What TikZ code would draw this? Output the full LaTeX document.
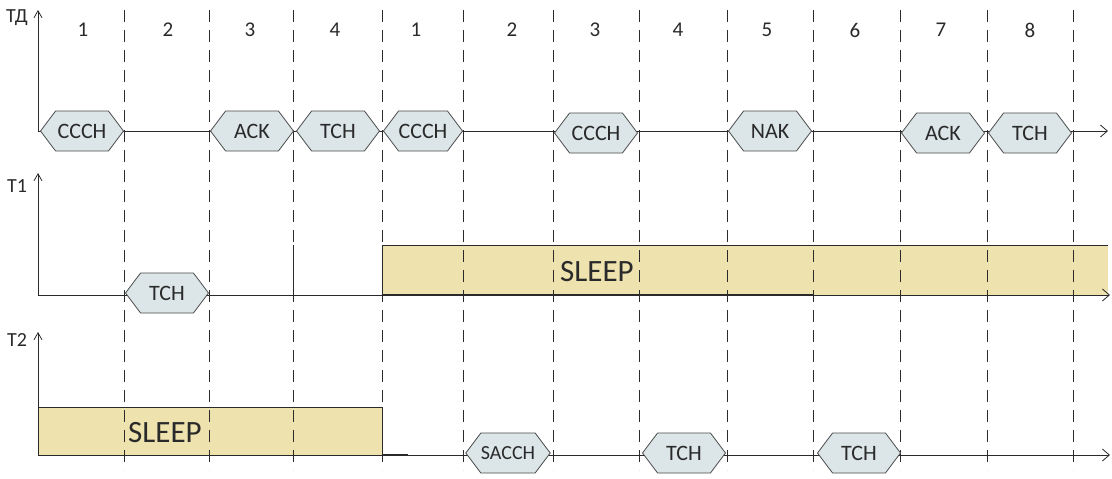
\documentclass[tikz,border=0pt]{standalone}
\usepackage{fontspec}
\setmainfont{Carlito}
\usetikzlibrary{shapes.symbols,arrows.meta}
\definecolor{hexfill}{HTML}{DCE6E9}
\definecolor{sleepfill}{HTML}{EEE2AF}
\definecolor{ink}{HTML}{2A2A2A}
\begin{document}
\begin{tikzpicture}[x=1pt,y=-1pt,
  frame/.style={signal, signal to=west and east, signal pointer angle=106,
    draw=ink!85, fill=hexfill, line width=0.8pt, minimum width=83pt,
    minimum height=40pt, inner sep=0pt, font=\fontsize{22}{22}\selectfont, text=ink},
  grid/.style={dash pattern=on 12pt off 8pt, line width=0.8pt, draw=ink},
  axis/.style={line width=0.8pt, draw=ink, -{Straight Barb[length=7pt,width=8pt]}},
  base/.style={line width=0.8pt, draw=ink, -{Straight Barb[length=7pt,width=12pt]}},
  slot/.style={font=\fontsize{21}{21}\selectfont, text=ink},
  axlabel/.style={font=\fontsize{20}{20}\selectfont, text=ink},
  sleeptext/.style={font=\fontsize{31}{31}\selectfont, text=ink},
]
\useasboundingbox (0,0) rectangle (1112,479);

% sleep periods
\fill[sleepfill] (382,245) rectangle (1108,295);
\draw[line width=0.8pt, ink] (382,295) -- (382,245) -- (1108,245);
\fill[sleepfill] (38,407) rectangle (382,455);
\draw[line width=0.8pt, ink] (38,407) -- (382,407) -- (382,455);

% slot boundaries
\foreach \x in {124,209,293,382,463,553,639,727,813,900,987,1073}
  \draw[grid] (\x,10) -- (\x,470);
\draw[line width=1pt, ink] (293,245) -- (293,295);

% time axes
\coordinate (o0) at (38,131);  \coordinate (t0) at (38,10);   \coordinate (e0) at (1108,131);
\coordinate (o1) at (38,295);  \coordinate (t1) at (38,173);  \coordinate (e1) at (1110,295);
\coordinate (o2) at (38,455);  \coordinate (t2) at (38,332);  \coordinate (e2) at (1110,455);
\draw[axis] (o0) -- (t0);
\draw[axis] (o1) -- (t1);
\draw[axis] (o2) -- (t2);
\draw[base] (o0) -- (e0);
\draw[base] (o1) -- (e1);
\draw[base] (o2) -- (e2);
\draw[line width=1.4pt, ink] (382,295) -- (813,295);
\draw[line width=1.4pt, ink] (382,455) -- (408,455);

\node[axlabel] (lab0) at (17,18) {ТД};
\node[axlabel] (lab1) at (17,186) {T1};
\node[axlabel] (lab2) at (17,340) {T2};

% slot numbers
\foreach \x/\n [count=\i] in {83/1,168/2,250/3,335/4,416/1,512/2,595/3,678/4,767/5,855/6,941/7,1030/8}
  \node[slot] (n\i) at (\x,30) {\n};

% channel bursts, TD line
\node[frame] (a1) at (82,131) {CCCH};
\node[frame] (a2) at (252,131) {ACK};
\node[frame] (a3) at (338,131) {TCH};
\node[frame, minimum width=79pt] (a4) at (423,131) {CCCH};
\node[frame] (a5) at (596,133) {CCCH};
\node[frame] (a6) at (770,131) {NAK};
\node[frame] (a7) at (943,133) {ACK};
\node[frame] (a8) at (1030,133) {TCH};

% T1 line
\node[frame] (b1) at (167,293) {TCH};
\node[sleeptext] (s1) at (597,272) {SLEEP};

% T2 line
\node[frame, font=\fontsize{20}{20}\selectfont] (c1) at (508,453) {SACCH};
\node[frame] (c2) at (684,453) {TCH};
\node[frame] (c3) at (859,453) {TCH};
\node[sleeptext] (s2) at (165,433) {SLEEP};
\end{tikzpicture}
\end{document}
